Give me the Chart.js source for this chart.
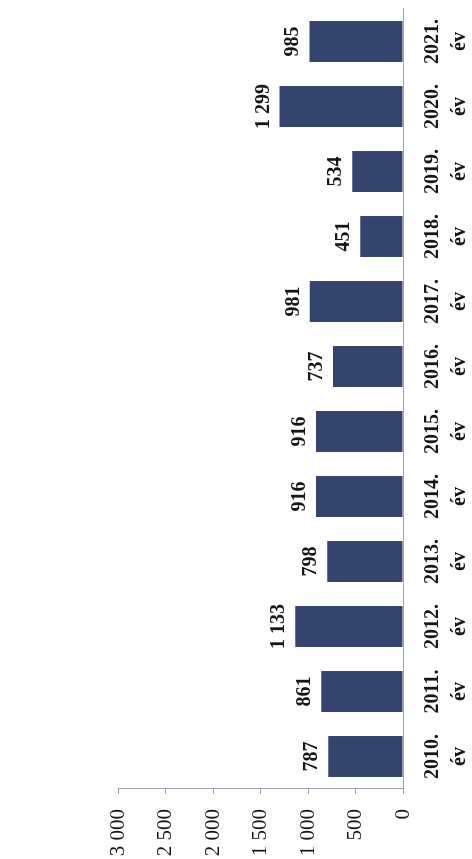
<!DOCTYPE html>
<html>
<head>
<meta charset="utf-8">
<script src="https://cdn.jsdelivr.net/npm/chart.js@4/dist/chart.umd.min.js"></script>
<style>
  html, body { margin: 0; padding: 0; background: #fff; }
  #page { position: relative; width: 472px; height: 859px; overflow: hidden; }
  #turn {
    position: absolute; left: 0; top: 859px;
    width: 859px; height: 472px;
    transform-origin: 0 0; transform: rotate(-90deg);
  }
</style>
</head>
<body>
<div id="page">
  <div id="turn"><canvas id="chart" width="859" height="472"></canvas></div>
</div>
<script>
const years = ["2010.", "2011.", "2012.", "2013.", "2014.", "2015.", "2016.", "2017.", "2018.", "2019.", "2020.", "2021."];
const values = [787, 861, 1133, 798, 916, 916, 737, 981, 451, 534, 1299, 985];
const yTicks = [0, 500, 1000, 1500, 2000, 2500, 3000];

const barColor = "#33456e";
const axisColor = "#9aa0b8";
const textColor = "#161616";

function spaced(n) {
  return String(n).replace(/\B(?=(\d{3})+(?!\d))/g, " ");
}

// ertekek a oszlopok vegenel
const valueLabels = {
  id: "valueLabels",
  afterDatasetsDraw(chart) {
    const ctx = chart.ctx;
    const meta = chart.getDatasetMeta(0);
    ctx.save();
    ctx.font = "bold 20px 'Liberation Serif', serif";
    ctx.fillStyle = textColor;
    ctx.textAlign = "center";
    ctx.textBaseline = "alphabetic";
    meta.data.forEach((bar, i) => {
      ctx.fillText(spaced(values[i]), bar.x, bar.y - 11);
    });
    ctx.restore();
  }
};

new Chart(document.getElementById("chart"), {
  type: "bar",
  data: {
    labels: years.map(y => [y, "év"]),
    datasets: [{
      data: values,
      backgroundColor: barColor,
      borderWidth: 0,
      categoryPercentage: 1,
      barPercentage: 0.63
    }]
  },
  options: {
    responsive: false,
    animation: false,
    layout: { padding: { top: 118, right: 9, left: 0, bottom: 0 } },
    plugins: { legend: { display: false }, tooltip: { enabled: false } },
    scales: {
      x: {
        grid: { display: false },
        border: { display: true, color: axisColor, width: 1 },
        ticks: {
          color: textColor,
          padding: 8,
          maxRotation: 0,
          font: { family: "'Liberation Serif', serif", size: 20, weight: "bold", lineHeight: 1.35 }
        },
        afterFit(scale) { scale.height = 69; }
      },
      y: {
        min: 0,
        max: 3000,
        afterBuildTicks(scale) { scale.ticks = yTicks.map(v => ({ value: v })); },
        grid: { drawOnChartArea: false, drawTicks: true, tickLength: 5, color: axisColor },
        border: { display: true, color: axisColor, width: 1 },
        ticks: {
          color: textColor,
          padding: 15,
          font: { family: "'Liberation Serif', serif", size: 21 },
          callback: v => spaced(v)
        },
        afterFit(scale) { scale.width = 70; }
      }
    }
  },
  plugins: [valueLabels]
});
</script>
</body>
</html>
